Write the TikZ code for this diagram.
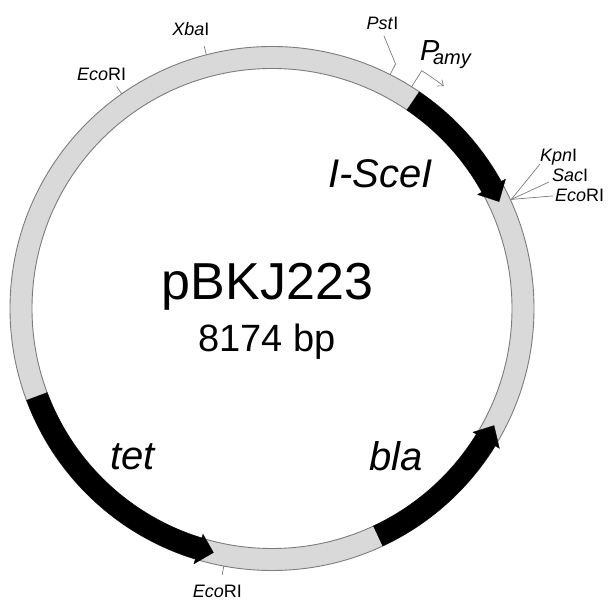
\documentclass[tikz,border=0pt]{standalone}
\usepackage{fontspec}
\setmainfont{Liberation Sans}
\usetikzlibrary{arrows.meta}

\definecolor{ringgray}{HTML}{D9D9D9}
\definecolor{edgegray}{HTML}{7C7C7C}
\newcommand\pxfont[1]{\fontsize{#1}{#1}\selectfont}

\tikzset{
  backbone/.style={fill=ringgray, even odd rule},
  backedge/.style={draw=edgegray, line width=0.9pt},
  gene/.style={fill=black, draw=black, line width=0.3pt, line join=miter},
  tickline/.style={draw=edgegray, line width=0.7pt},
  sitelabel/.style={inner sep=0pt, font=\pxfont{18}},
  genelabel/.style={inner sep=0pt, font=\pxfont{40}\itshape},
  titlelabel/.style={inner sep=0pt, anchor=base},
}

\begin{document}
\begin{tikzpicture}[x=1pt,y=1pt]
\useasboundingbox (-272,-292.5) rectangle (340,308.5);

% plasmid backbone: a grey ring with thin outlines
\fill[backbone] (0,0) circle[radius=262pt] (0,0) circle[radius=240pt];
\draw[backedge] (0,0) circle[radius=262pt] (0,0) circle[radius=240pt];

% genes as black arcs with arrowheads
% I-SceI, clockwise
\path[gene] (55.8:262pt) arc[start angle=55.8, end angle=29, radius=262pt]
  -- (29:267pt) -- (25.2:251pt) -- (29:235pt) -- (29:240pt)
  arc[start angle=29, end angle=55.8, radius=240pt] -- cycle;
% bla, counter-clockwise
\path[gene] (-65:240pt) arc[start angle=-65, end angle=-31.6, radius=240pt]
  -- (-31.6:236pt) -- (-27.8:251pt) -- (-31.6:267pt) -- (-31.6:262pt)
  arc[start angle=-31.6, end angle=-65, radius=262pt] -- cycle;
% tet, counter-clockwise
\path[gene] (200.5:262pt) arc[start angle=200.5, end angle=253, radius=262pt]
  -- (253:267pt) -- (256.5:251pt) -- (253:236pt) -- (253:240pt)
  arc[start angle=253, end angle=200.5, radius=240pt] -- cycle;

% centre title
\node[titlelabel, font=\pxfont{52}] (name) at (-4.5,8.5) {pBKJ223};
\node[titlelabel, font=\pxfont{38}] (size) at (-5.3,-43.2) {8174 bp};

% gene names
\node[genelabel, anchor=base] (isce) at (108.7,121.2) {I-SceI};
\node[genelabel, anchor=base] (tet) at (-139.5,-161.5) {tet};
\node[genelabel, anchor=base] (bla) at (124,-162.5) {bla};

% restriction sites with short radial ticks
\coordinate (ecoA) at (125:262pt);
\coordinate (ecoAout) at (125:271pt);
\draw[tickline] (ecoA) -- (ecoAout);
\node[sitelabel, anchor=base] (ecoAl) at (-170.3,227.5) {\textit{Eco}RI};

\coordinate (xba) at (104.5:262pt);
\coordinate (xbaout) at (104.5:271pt);
\draw[tickline] (xba) -- (xbaout);
\node[sitelabel, anchor=base] (xbal) at (-81.2,272.8) {\textit{Xba}I};

\coordinate (pst) at (63.2:262pt);
\coordinate (pstbend) at (63.2:274pt);
\coordinate (psttop) at (112,272.5);
\node[sitelabel, anchor=base] (pstl) at (110.5,279) {\textit{Pst}I};
\draw[tickline] (pst) -- (pstbend) -- (psttop);

\coordinate (ecoB) at (259.4:262pt);
\coordinate (ecoBout) at (259.4:271pt);
\draw[tickline] (ecoB) -- (ecoBout);
\node[sitelabel, anchor=base] (ecoBl) at (-54.7,-289) {\textit{Eco}RI};

% polylinker cluster
\coordinate (mcs) at (24.5:263pt);
\node[sitelabel, anchor=base west] (kpn) at (268,146.5) {\textit{Kpn}I};
\node[sitelabel, anchor=base west] (sac) at (280,126.5) {\textit{Sac}I};
\node[sitelabel, anchor=base west] (ecoC) at (283,106.5) {\textit{Eco}RI};
\draw[tickline] (mcs) -- ([yshift=-2pt]kpn.base west);
\draw[tickline] (mcs) -- ([xshift=-3pt]sac.base west);
\draw[tickline] (mcs) -- ([xshift=-2pt]ecoC.west);

% amylase promoter, bent arrow
\coordinate (pamy) at (57.8:262pt);
\draw[tickline, -{Straight Barb[length=5pt,width=8pt]}]
  (pamy) -- (57.8:281pt) arc[start angle=57.8, end angle=52.3, radius=281pt];
\node[inner sep=0pt, anchor=base west, font=\pxfont{29}] (pl) at (148,247.8)
  {\textit{P}\kern-6.5pt\raisebox{-4.3pt}{\pxfont{20}\textit{amy}}};
\end{tikzpicture}
\end{document}
